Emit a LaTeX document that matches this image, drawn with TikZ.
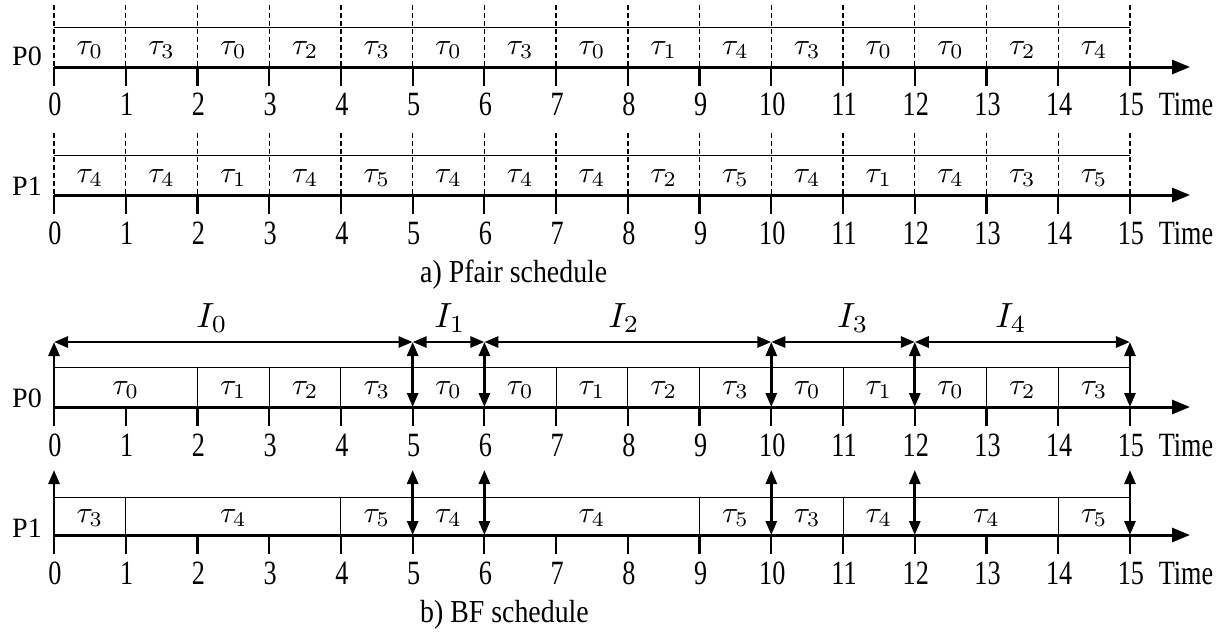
\documentclass[tikz,border=0pt]{standalone}
\usepackage{fontspec}
\setmainfont{Liberation Serif}
\usetikzlibrary{arrows.meta}
\newcommand\sq[1]{\scalebox{0.77}[1]{#1}}
\newcommand\sqc[1]{\scalebox{0.87}[1]{#1}}
\newcommand\tk[1]{\scalebox{3.0}{$\tau_{#1}$}}
\newcommand\ik[1]{\scalebox{3.5}{$I_{#1}$}}
\newcommand\XX[1]{54+71.73*(#1)}
\begin{document}
\begin{tikzpicture}[x=1pt,y=-1pt,
  axisl/.style={line width=3pt,-{Triangle[length=18pt,width=14pt]}},
  tickl/.style={line width=2.2pt},
  boxl/.style={line width=1pt},
  dashl/.style={line width=1.3pt,dash pattern=on 5pt off 3pt},
  uparr/.style={line width=2.8pt,-{Triangle[length=14pt,width=11pt]}},
  dblarr/.style={line width=2.8pt,{Triangle[length=14pt,width=11pt]}-{Triangle[length=14pt,width=11pt]}},
  num/.style={anchor=base,inner sep=0pt,font=\fontsize{34}{36}\selectfont},
  captxt/.style={anchor=base west,inner sep=0pt,font=\fontsize{32}{34}\selectfont},
  plab/.style={anchor=base,inner sep=0pt,font=\fontsize{28}{30}\selectfont},
  tlab/.style={anchor=base,inner sep=0pt},
  ilab/.style={anchor=base,inner sep=0pt},
]
\useasboundingbox (0,0) rectangle (1230,633);

% ---------- row 1 : Pfair P0 ----------
\coordinate (r1s) at (54,67);
\coordinate (r1e) at (1190,67);
\coordinate (r1a) at (54,27);
\coordinate (r1b) at ({\XX{15}},27);
\draw[boxl] (r1a) -- (r1b);
\foreach \t in {0,...,15} {
  \coordinate (r1d\t) at ({\XX{\t}},5);
  \coordinate (r1t\t) at ({\XX{\t}},67);
  \draw[dashl] (r1d\t) -- (r1t\t);
}
\foreach \k [count=\i from 0] in {0,3,0,2,3,0,3,0,1,4,3,0,0,2,4}
  \node[tlab] (r1k\i) at ({\XX{\i+0.5}},54) {\tk{\k}};
\draw[axisl] (r1s) -- (r1e);
\foreach \t in {0,...,15} {
  \draw[tickl] (r1t\t) -- ++(0,19);
  \node[num] (r1n\t) at ({\XX{\t}+1},115) {\sq{\t}};
}
\node[num] (r1time) at (1186,115) {\sq{Time}};
\node[plab] (r1p) at (27,65) {P0};

% ---------- row 2 : Pfair P1 ----------
\coordinate (r2s) at (54,195);
\coordinate (r2e) at (1190,195);
\coordinate (r2a) at (54,155);
\coordinate (r2b) at ({\XX{15}},155);
\draw[boxl] (r2a) -- (r2b);
\foreach \t in {0,...,15} {
  \coordinate (r2d\t) at ({\XX{\t}},133);
  \coordinate (r2t\t) at ({\XX{\t}},195);
  \draw[dashl] (r2d\t) -- (r2t\t);
}
\foreach \k [count=\i from 0] in {4,4,1,4,5,4,4,4,2,5,4,1,4,3,5}
  \node[tlab] (r2k\i) at ({\XX{\i+0.5}},182) {\tk{\k}};
\draw[axisl] (r2s) -- (r2e);
\foreach \t in {0,...,15} {
  \draw[tickl] (r2t\t) -- ++(0,19);
  \node[num] (r2n\t) at ({\XX{\t}+1},244) {\sq{\t}};
}
\node[num] (r2time) at (1186,244) {\sq{Time}};
\node[plab] (r2p) at (27,195) {P1};

\node[captxt] (capa) at (420,282) {\sqc{a) Pfair schedule}};

% ---------- row 3 : BF P0 ----------
\coordinate (r3s) at (54,407);
\coordinate (r3e) at (1190,407);
\coordinate (r3a) at (54,367);
\coordinate (r3b) at ({\XX{15}},367);
\draw[boxl] (r3a) -- (r3b);
\foreach \a/\b/\k in {0/2/0,2/3/1,3/4/2,4/5/3,5/6/0,6/7/0,7/8/1,8/9/2,9/10/3,10/11/0,11/12/1,12/13/0,13/14/2,14/15/3} {
  \coordinate (r3u\a) at ({\XX{\a}},367);
  \coordinate (r3v\a) at ({\XX{\a}},407);
  \draw[boxl] (r3u\a) -- (r3v\a);
  \node[tlab] (r3k\a) at ({\XX{(\a+\b)/2}},394) {\tk{\k}};
}
\draw[axisl] (r3s) -- (r3e);
\foreach \t in {0,...,15} {
  \coordinate (r3t\t) at ({\XX{\t}},407);
  \coordinate (r3h\t) at ({\XX{\t}},342);
  \draw[tickl] (r3t\t) -- ++(0,19);
  \node[num] (r3n\t) at ({\XX{\t}+1},456) {\sq{\t}};
}
\node[num] (r3time) at (1186,456) {\sq{Time}};
\node[plab] (r3p) at (27,407) {P0};
\draw[uparr] (r3t0) -- (r3h0);
\foreach \t in {5,6,10,12,15}
  \draw[dblarr] (r3t\t) -- (r3h\t);
\draw[dblarr] (r3h0) -- (r3h5);
\draw[dblarr] (r3h5) -- (r3h6);
\draw[dblarr] (r3h6) -- (r3h10);
\draw[dblarr] (r3h10) -- (r3h12);
\draw[dblarr] (r3h12) -- (r3h15);
\node[ilab] (i0) at (212,327) {\ik{0}};
\node[ilab] (i1) at (450,327) {\ik{1}};
\node[ilab] (i2) at (624,327) {\ik{2}};
\node[ilab] (i3) at (853,327) {\ik{3}};
\node[ilab] (i4) at (1011,327) {\ik{4}};

% ---------- row 4 : BF P1 ----------
\coordinate (r4s) at (54,535);
\coordinate (r4e) at (1190,535);
\coordinate (r4a) at (54,497);
\coordinate (r4b) at ({\XX{15}},497);
\draw[boxl] (r4a) -- (r4b);
\foreach \a/\b/\k in {0/1/3,1/4/4,4/5/5,5/6/4,6/9/4,9/10/5,10/11/3,11/12/4,12/14/4,14/15/5} {
  \coordinate (r4u\a) at ({\XX{\a}},497);
  \coordinate (r4v\a) at ({\XX{\a}},535);
  \draw[boxl] (r4u\a) -- (r4v\a);
  \node[tlab] (r4k\a) at ({\XX{(\a+\b)/2}},522) {\tk{\k}};
}
\draw[axisl] (r4s) -- (r4e);
\foreach \t in {0,...,15} {
  \coordinate (r4t\t) at ({\XX{\t}},535);
  \coordinate (r4h\t) at ({\XX{\t}},470);
  \draw[tickl] (r4t\t) -- ++(0,19);
  \node[num] (r4n\t) at ({\XX{\t}+1},584) {\sq{\t}};
}
\node[num] (r4time) at (1186,584) {\sq{Time}};
\node[plab] (r4p) at (27,537) {P1};
\draw[uparr] (r4t0) -- (r4h0);
\foreach \t in {5,6,10,12,15}
  \draw[dblarr] (r4t\t) -- (r4h\t);

\node[captxt] (capb) at (420,622) {\sqc{b) BF schedule}};
\end{tikzpicture}
\end{document}
